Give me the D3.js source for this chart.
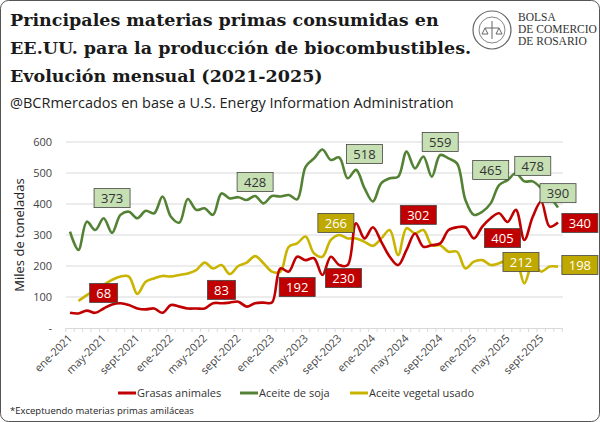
<!DOCTYPE html>
<html><head><meta charset="utf-8">
<script src="https://cdn.jsdelivr.net/npm/d3@7"></script>
<style>body{margin:0;background:#fff}svg{display:block}</style>
</head><body>
<svg id="c" width="600" height="422"></svg>
<script>
const months = d3.range(59).map(i => new Date(2021, i, 1));
const mesAbbr = ["ene","feb","mar","abr","may","jun","jul","ago","sept","oct","nov","dic"];
const soja = [311,252,343,316,354,307,365,375,354,378,370,424,359,340,416,381,386,365,434,418,422,413,426,402,426,424,429,415,520,547,576,542,550,483,510,451,408,467,483,488,569,515,553,488,558,547,531,413,365,375,402,461,477,499,473,473,451,424,389];
const grasas = [49,47,56,49,63,76,80,74,63,60,63,49,74,69,63,63,63,80,80,82,85,69,80,82,82,192,182,230,219,225,171,230,203,203,338,289,325,278,230,203,252,305,262,267,273,316,325,325,289,327,354,370,342,381,284,359,408,327,340];
const usado = [null,87,106,123,139,155,166,166,110,149,160,168,166,171,176,187,211,192,203,174,200,211,232,209,182,182,262,273,295,241,230,284,300,289,289,278,265,289,316,235,322,305,316,267,267,246,246,192,214,219,203,209,219,219,144,209,182,198,198];
const yTicks = [0,100,200,300,400,500,600];
const labelsSoja = [{m:5,v:419,t:"373"},{m:22,v:471,t:"428"},{m:35,v:561,t:"518"},{m:44,v:600,t:"559"},{m:50,v:510,t:"465"},{m:55,v:523,t:"478"},{m:58,v:435,t:"390"}];
const labelsGrasas = [{m:4,v:113,t:"68"},{m:18,v:123,t:"83"},{m:27,v:132,t:"192"},{m:32.5,v:161,t:"230"},{m:41.4,v:365,t:"302"},{m:51.4,v:290,t:"405"},{m:60.6,v:339,t:"340"}];
const labelsUsado = [{m:31.6,v:339,t:"266"},{m:53.6,v:213,t:"212"},{m:60.6,v:203,t:"198"}];
const seriesNames = ["Grasas animales","Aceite de soja","Aceite vegetal usado"];

const svg = d3.select("#c");
svg.append("rect").attr("x",0.5).attr("y",0.5).attr("width",599).attr("height",421).attr("rx",8).attr("fill","#fff").attr("stroke","#555");

const x = d3.scaleLinear().domain([0,58]).range([70,558]);
const y = d3.scaleLinear().domain([0,600]).range([328,142]);
const sans = "'Open Sans','Noto Sans',sans-serif";

const title = ["Principales materias primas consumidas en","EE.UU. para la producción de biocombustibles.","Evolución mensual (2021-2025)"];
svg.selectAll("text.t").data(title).join("text").attr("x",10).attr("y",(d,i)=>26+i*28)
  .attr("font-family","'DejaVu Serif',serif").attr("font-weight","bold").attr("font-size",17.5).attr("fill","#1a1a1a").text(d=>d);
svg.append("text").attr("x",10).attr("y",108).attr("font-family",sans).attr("font-size",14.5).attr("fill","#222")
  .text("@BCRmercados en base a U.S. Energy Information Administration");

const lg = svg.append("g").attr("transform","translate(492,30)");
lg.append("circle").attr("r",19).attr("fill","none").attr("stroke","#666").attr("stroke-width",1.2);
lg.append("circle").attr("r",13).attr("fill","none").attr("stroke","#666").attr("stroke-width",0.8);
lg.append("path").attr("d","M0,-9V9M-7,-2h14M-7,-2l-3,6h6zM7,-2l-3,6h6z").attr("stroke","#666").attr("fill","none");
["BOLSA","DE COMERCIO","DE ROSARIO"].forEach((s,i)=>svg.append("text").attr("x",518).attr("y",21+i*12)
  .attr("font-family","'Liberation Serif',serif").attr("font-size",11.5).attr("fill","#333").text(s));

svg.append("g").selectAll("line").data(yTicks.slice(1)).join("line").attr("x1",66).attr("x2",563)
  .attr("y1",d=>y(d)).attr("y2",d=>y(d)).attr("stroke","#d9d9d9");
svg.append("g").selectAll("text").data(yTicks).join("text").attr("x",52).attr("y",d=>y(d)+4).attr("text-anchor","end")
  .attr("font-family",sans).attr("font-size",11).attr("fill","#444").text(d=>d===0?"-":d);
svg.append("text").attr("transform","translate(24,235) rotate(-90)").attr("text-anchor","middle")
  .attr("font-family",sans).attr("font-size",13).attr("fill","#222").text("Miles de toneladas");

svg.append("line").attr("x1",66).attr("x2",563).attr("y1",y(0)+0.5).attr("y2",y(0)+0.5).attr("stroke","#d9d9d9");
svg.append("g").selectAll("line").data(d3.range(60)).join("line").attr("x1",d=>x(d-0.5)).attr("x2",d=>x(d-0.5))
  .attr("y1",y(0)).attr("y2",y(0)+4).attr("stroke","#d9d9d9");
svg.append("g").selectAll("text").data(d3.range(0,59,4)).join("text")
  .attr("transform",d=>`translate(${x(d)+3},${y(0)+11}) rotate(-45)`).attr("text-anchor","end")
  .attr("font-family",sans).attr("font-size",11).attr("fill","#444")
  .text(d=>mesAbbr[months[d].getMonth()]+"-"+months[d].getFullYear());

const line = d3.line().defined(d=>d[1]!=null).x(d=>x(d[0])).y(d=>y(d[1])).curve(d3.curveCatmullRom.alpha(0.5));
const series = [[soja,"#548235"],[usado,"#c9b400"],[grasas,"#c00000"]];
series.forEach(([arr,col])=>svg.append("path").attr("d",line(arr.map((v,i)=>[i,v]))).attr("fill","none")
  .attr("stroke",col).attr("stroke-width",2.6).attr("stroke-linejoin","round"));

function boxes(arr, fill, tcol){
  arr.forEach(l=>{
    const w = l.t.length*8+12, h=19;
    const g = svg.append("g").attr("transform",`translate(${x(l.m)},${y(l.v)})`);
    g.append("rect").attr("x",-w/2).attr("y",-h/2).attr("width",w).attr("height",h).attr("fill",fill).attr("stroke","#444").attr("stroke-width",0.8);
    g.append("text").attr("y",5).attr("text-anchor","middle").attr("font-family",sans).attr("font-size",13).attr("fill",tcol).text(l.t);
  });
}
boxes(labelsSoja,"#c6e0b4","#333");
boxes(labelsGrasas,"#c00000","#fff");
boxes(labelsUsado,"#bfa800","#fff");

const legCols = ["#c00000","#548235","#c9b400"];
const legX = [118,240,350];
seriesNames.forEach((n,i)=>{
  svg.append("line").attr("x1",legX[i]).attr("x2",legX[i]+18).attr("y1",393).attr("y2",393).attr("stroke",legCols[i]).attr("stroke-width",3);
  svg.append("text").attr("x",legX[i]+19).attr("y",397).attr("font-family",sans).attr("font-size",11).attr("fill","#333").text(n);
});
svg.append("text").attr("x",10).attr("y",414).attr("font-family",sans).attr("font-size",9.5).attr("fill","#222").text("*Exceptuendo materias primas amiláceas");
</script>
</body></html>
